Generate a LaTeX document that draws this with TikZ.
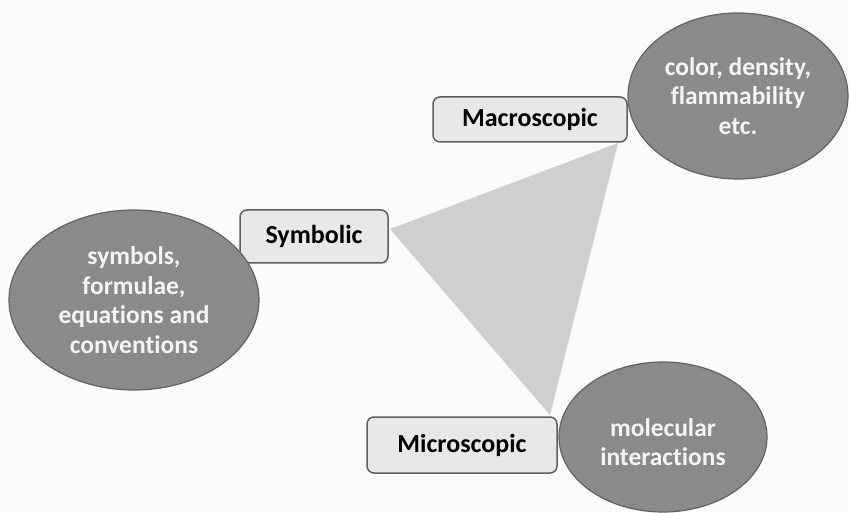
\documentclass[tikz,border=0pt]{standalone}
\usepackage{fontspec}
\setmainfont{Carlito}[Ligatures=NoCommon]
\usetikzlibrary{shapes.geometric}
\definecolor{boxfill}{HTML}{E8E8E8}
\definecolor{boxline}{HTML}{5E5E5E}
\definecolor{ovalfill}{HTML}{8A8A8A}
\definecolor{ovalline}{HTML}{626262}
\definecolor{ovaltext}{HTML}{F4F4F4}
\definecolor{wedge}{HTML}{CFCFCF}
\definecolor{paper}{HTML}{FBFBFB}
\begin{document}
\begin{tikzpicture}[x=1pt,y=-1pt,
  levelbox/.style={draw=boxline, fill=boxfill, line width=1.5pt, rounded corners=7pt,
    inner sep=0pt, text=black, font=\bfseries\fontsize{26}{30}\selectfont},
  oval/.style={ellipse, draw=ovalline, fill=ovalfill, line width=1.2pt, inner sep=0pt,
    align=center, text=ovaltext, font=\bfseries\fontsize{25.5}{29.5}\selectfont}]
  % page
  \fill[paper] (0,0) rectangle (849,513);
  \useasboundingbox (0,0) rectangle (849,513);

  % corners of the central triangle
  \coordinate (tS) at (390,229);
  \coordinate (tM) at (618,143);
  \coordinate (tm) at (550,415);
  \fill[wedge] (tS) -- (tM) -- (tm) -- cycle;

  % the three levels
  \node[levelbox, minimum width=194pt, minimum height=45pt] (macro) at (530,119.5) {Macroscopic};
  \node[levelbox, minimum width=148pt, minimum height=53pt] (symb) at (314,236.5) {Symbolic};
  \node[levelbox, minimum width=190pt, minimum height=56pt] (micro) at (462,445) {Microscopic};

  % what each level deals with
  \node[oval, minimum width=220pt, minimum height=166pt] (macroex) at (738,96)
    {color, density,\\flammability\\etc.};
  \node[oval, minimum width=250pt, minimum height=180pt] (symbex) at (134,300)
    {symbols,\\formulae,\\equations and\\conventions};
  \node[oval, minimum width=208pt, minimum height=150pt] (microex) at (663,437) {};
  \node[align=center, text=ovaltext, font=\bfseries\fontsize{25.5}{29.5}\selectfont, inner sep=0pt]
    (microtx) at (663,442) {molecular\\interactions};
\end{tikzpicture}
\end{document}
